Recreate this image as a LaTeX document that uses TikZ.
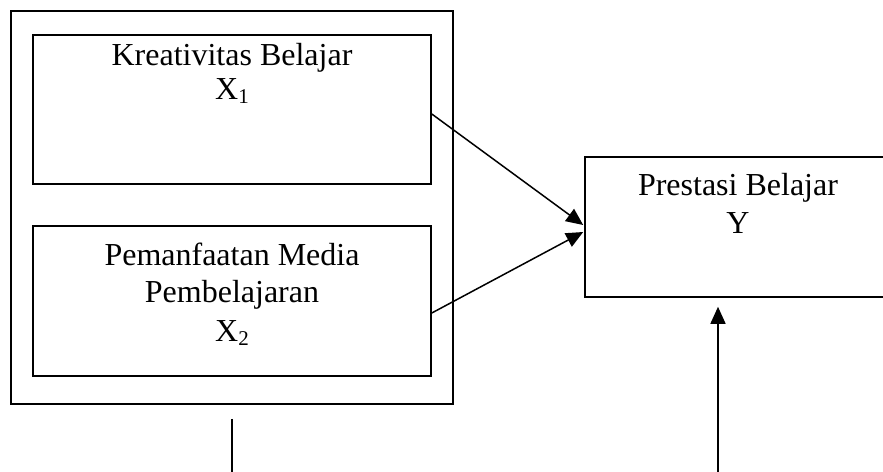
\documentclass[tikz,border=0pt]{standalone}
\usepackage{fontspec}
\setmainfont{Liberation Serif}
\usetikzlibrary{arrows.meta,calc}
\tikzset{
  box/.style={draw, line width=1.6pt, rectangle, inner sep=0pt},
  lbl/.style={anchor=base, inner sep=0pt, font=\fontsize{32}{36}\selectfont},
  conn/.style={line width=1.5pt, -{Triangle[length=17pt,width=15pt]}},
}
\newcommand{\subn}[1]{\raisebox{-0.3ex}{\fontsize{21}{21}\selectfont #1}}
\begin{document}
\begin{tikzpicture}[x=1pt,y=-1pt]
\clip (0,0) rectangle (883,471);
\fill[white] (0,0) rectangle (883,471);
% boxes
\node[box, minimum width=442pt, minimum height=393pt] (outer) at (232,207.5) {};
\node[box, minimum width=398pt, minimum height=149pt] (b1) at (232,109.5) {};
\node[box, minimum width=398pt, minimum height=150pt] (b2) at (232,301) {};
\node[box, minimum width=310pt, minimum height=140pt] (by) at (740,227) {};
% texts
\node[lbl] (t1a) at (232,65) {Kreativitas Belajar};
\node[lbl] (t1b) at (232,99) {X\subn{1}};
\node[lbl] (t2a) at (232,265) {Pemanfaatan Media};
\node[lbl] (t2b) at (232,302) {Pembelajaran};
\node[lbl] (t2c) at (232,341) {X\subn{2}};
\node[lbl] (tya) at (738,195) {Prestasi Belajar};
\node[lbl] (tyb) at (738,233) {Y};
% connectors
\draw[conn] ([yshift=-4.5pt]b1.east) -- ([yshift=2pt,xshift=-1pt]by.west);
\draw[conn] ([yshift=-12pt]b2.east) -- ([yshift=-5pt,xshift=-1pt]by.west);
\coordinate (bl) at (232,476);
\draw[line width=1.6pt] ([yshift=-14pt]outer.south) -- (bl);
\coordinate (br) at (718,476);
\draw[conn] (br) -- ([yshift=-9pt]by.south -| br);
\end{tikzpicture}
\end{document}
